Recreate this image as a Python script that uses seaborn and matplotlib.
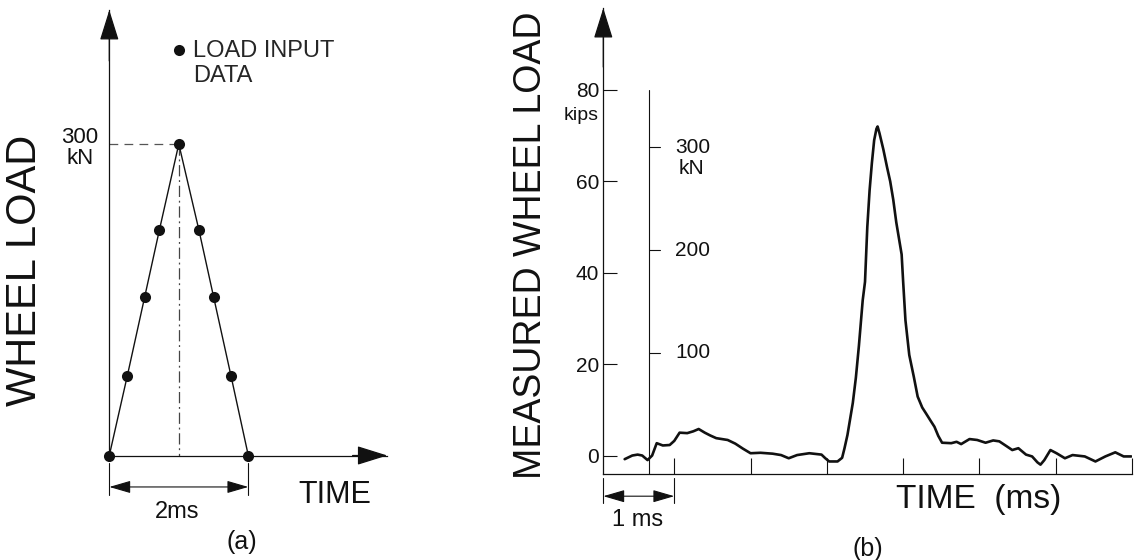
import matplotlib
matplotlib.use("Agg")
import matplotlib.pyplot as plt
import numpy as np
import pandas as pd
import seaborn as sns

# ---------------- data ----------------
# (a) idealised load input (time in ms, load in kN)
load_time_ms = [0.0, 0.26, 0.51, 0.72, 1.0, 1.29, 1.50, 1.75, 2.0]
load_kN = [0, 77, 153, 217, 300, 217, 153, 77, 0]

# (b) measured wheel load (time in ms, load in kips)
meas_time_ms = [
    0.35, 0.45, 0.52, 0.58, 0.65, 0.71, 0.77, 0.85, 0.94, 1.00,
    1.07, 1.17, 1.25, 1.32, 1.40, 1.47, 1.55, 1.70, 1.80, 1.90,
    2.00, 2.13, 2.29, 2.40, 2.50, 2.61, 2.77, 2.93, 2.98, 3.03,
    3.14, 3.20, 3.23, 3.27, 3.30, 3.34, 3.38, 3.42, 3.47, 3.50,
    3.53, 3.56, 3.59, 3.62, 3.65, 3.665, 3.69, 3.74, 3.79, 3.83,
    3.87, 3.91, 3.95, 3.98, 4.00, 4.03, 4.08, 4.14, 4.19, 4.25,
    4.30, 4.36, 4.41, 4.46, 4.51, 4.63, 4.70, 4.76, 4.87, 4.97,
    5.08, 5.18, 5.26, 5.35, 5.43, 5.51, 5.61, 5.69, 5.76, 5.80,
    5.85, 5.93, 6.01, 6.12, 6.22, 6.38, 6.52, 6.65, 6.78, 6.89,
    6.99,
]
meas_kips = [
    -0.8, 0.0, 0.2, 0.0, -1.0, 0.0, 2.7, 2.2, 2.3, 3.2,
    5.0, 4.9, 5.3, 5.8, 5.0, 4.4, 3.8, 3.4, 2.6, 1.5,
    0.5, 0.6, 0.4, 0.1, -0.6, 0.1, 0.5, 0.2, -0.6, -1.3,
    -1.3, -0.5, 1.5, 4.5, 7.5, 11.5, 17.0, 24.0, 34.0, 38.0,
    50.0, 58.0, 64.0, 69.0, 71.5, 72.0, 70.5, 67.0, 63.0, 60.0,
    56.0, 51.0, 47.0, 44.0, 38.0, 29.6, 22.0, 17.2, 12.9, 10.5,
    9.2, 7.6, 6.3, 4.3, 2.8, 2.7, 3.0, 2.5, 3.6, 3.4,
    2.8, 3.3, 3.1, 2.1, 1.2, 1.6, 0.2, -0.2, -1.5, -2.0,
    -1.0, 1.2, 0.5, -0.6, 0.1, -0.2, -1.3, -0.2, 0.7, -0.2,
    -0.2,
]

kips_ticks = [0, 20, 40, 60, 80]
kN_ticks = [100, 200, 300]
time_ticks_ms = [1, 2, 3, 4, 5, 6, 7]
KN_PER_KIP = 4.448

# ---------------- style ----------------
sns.set_theme(style="white")
plt.rcParams["font.family"] = ["Liberation Sans", "DejaVu Sans"]
INK = "#111111"

W, H = 1137, 560
fig = plt.figure(figsize=(W / 100, H / 100), dpi=100)

# ======================= panel (a) =======================
ax_a = fig.add_axes([109.3 / W, (H - 455.5) / H, 4.0 * 69.5 / W, 429 * 1.0383 / H])
ax_a.set_xlim(0, 4.0)
ax_a.set_ylim(0, 429)
for s in ["top", "right"]:
    ax_a.spines[s].set_visible(False)
for s in ["left", "bottom"]:
    ax_a.spines[s].set_color(INK)
    ax_a.spines[s].set_linewidth(0.9)
ax_a.set_xticks([])
ax_a.set_yticks([])
ax_a.patch.set_alpha(0)

df_a = pd.DataFrame({"t": load_time_ms, "kN": load_kN})
sns.lineplot(data=df_a, x="t", y="kN", ax=ax_a, color=INK, lw=1.0,
             estimator=None, sort=False, legend=False)
sns.scatterplot(data=df_a, x="t", y="kN", ax=ax_a, color=INK, s=64,
                edgecolor=INK, linewidth=0, zorder=5, clip_on=False,
                label="LOAD INPUT\nDATA")
ax_a.set_xlabel("")
ax_a.set_ylabel("")

peak_i = int(np.argmax(load_kN))
t_pk, y_pk = load_time_ms[peak_i], load_kN[peak_i]
ax_a.plot([0, t_pk], [y_pk, y_pk], color="#555555", lw=0.9, ls=(0, (7, 5)))
ax_a.plot([t_pk, t_pk], [y_pk, 0], color="#444444", lw=0.9, ls=(0, (9, 3, 1.5, 3)))

# axis arrow heads
arrow_kw = dict(arrowstyle="-|>,head_length=1.6,head_width=0.5", color=INK,
                lw=0.9, shrinkA=0, shrinkB=0)
ax_a.annotate("", xy=(0, 429), xytext=(0, 380), arrowprops=arrow_kw,
              annotation_clip=False)
ax_a.annotate("", xy=(4.0, 0), xytext=(3.5, 0), arrowprops=arrow_kw,
              annotation_clip=False)

leg = ax_a.legend(loc="upper left", bbox_to_anchor=(161 / W, 1 - 28 / H),
                  bbox_transform=fig.transFigure, frameon=False, fontsize=17,
                  handlelength=0.5, handletextpad=0.35, borderpad=0,
                  labelspacing=0.1, markerscale=1.0)
# put the marker level with the first text line
for col in leg._legend_handle_box.get_children():
    for item in col.get_children():
        item.align = "top"

ax_a.text(-0.42, 296, "300\nkN", ha="center", va="center", fontsize=16,
          linespacing=1.0, color=INK, clip_on=False)
ax_a.text(-1.21, 178, "WHEEL LOAD", rotation=90, ha="center", va="center",
          fontsize=30, color=INK, clip_on=False)
ax_a.text(3.25, -38, "TIME", ha="center", va="center", fontsize=22,
          color=INK, clip_on=False)

# 2 ms dimension
for tx in [load_time_ms[0], load_time_ms[-1]]:
    ax_a.plot([tx, tx], [-7, -38], color=INK, lw=0.8, clip_on=False)
ax_a.annotate("", xy=(load_time_ms[-1], -30.3), xytext=(load_time_ms[0], -30.3),
              arrowprops=dict(arrowstyle="<|-|>,head_length=1.1,head_width=0.32",
                              color=INK, lw=0.8, shrinkA=0, shrinkB=0),
              annotation_clip=False)
ax_a.text(0.98, -54, "2ms", ha="center", va="center", fontsize=17,
          color=INK, clip_on=False)
ax_a.text(1.91, -83.5, "(a)", ha="center", va="center", fontsize=18,
          color=INK, clip_on=False)

# ======================= panel (b) =======================
T0, T1 = 0.07, 7.0
Y0, Y1 = -4.0, 97.9
ax_b = fig.add_axes([603.3 / W, (H - 473.8) / H, (T1 - T0) * 76.3 / W,
                     (Y1 - Y0) * 4.57 / H])
ax_b.set_xlim(T0, T1)
ax_b.set_ylim(Y0, Y1)
ax_b.patch.set_alpha(0)
for s in ["top", "right"]:
    ax_b.spines[s].set_visible(False)
for s in ["left", "bottom"]:
    ax_b.spines[s].set_color(INK)
    ax_b.spines[s].set_linewidth(0.9)

df_b = pd.DataFrame({"t": meas_time_ms, "kips": meas_kips})
sns.lineplot(data=df_b, x="t", y="kips", ax=ax_b, color=INK, lw=1.9,
             estimator=None, sort=False, legend=False)
ax_b.set_xlabel("")
ax_b.set_ylabel("")

ax_b.set_xticks(time_ticks_ms)
ax_b.set_xticklabels([])
ax_b.tick_params(axis="x", direction="in", length=11.5, width=0.8,
                 color=INK, bottom=True)
ax_b.set_yticks(kips_ticks)
ax_b.set_yticklabels([str(v) for v in kips_ticks], fontsize=15, color=INK)
ax_b.tick_params(axis="y", direction="in", length=10, width=0.8, pad=3,
                 color=INK, left=True)

ax_b.annotate("", xy=(T0, Y1), xytext=(T0, 85), arrowprops=arrow_kw,
              annotation_clip=False)
ax_b.text(0.013, 74.5, "kips", ha="right", va="center", fontsize=14,
          color=INK, clip_on=False)

# kN scale
T_KN = 0.668
ax_b.plot([T_KN, T_KN], [Y0, kips_ticks[-1]], color=INK, lw=0.8)
for v in kN_ticks:
    k = v / KN_PER_KIP
    ax_b.plot([T_KN, T_KN + 0.145], [k, k], color=INK, lw=0.8)
    ax_b.text(1.01, k, str(v), ha="left", va="center", fontsize=15, color=INK)
ax_b.text(1.23, kN_ticks[-1] / KN_PER_KIP - 4.7, "kN", ha="center",
          va="center", fontsize=15, color=INK)

ax_b.text(-0.88, 46, "MEASURED WHEEL LOAD", rotation=90, ha="center",
          va="center", fontsize=27, color=INK, clip_on=False)
ax_b.text(4.99, -9.7, "TIME  (ms)", ha="center", va="center", fontsize=24,
          color=INK, clip_on=False)

# 1 ms dimension
for tx in [T0, time_ticks_ms[0]]:
    ax_b.plot([tx, tx], [-4.9, -10.4], color=INK, lw=0.8, clip_on=False)
ax_b.annotate("", xy=(time_ticks_ms[0], -8.9), xytext=(T0, -8.9),
              arrowprops=dict(arrowstyle="<|-|>,head_length=1.1,head_width=0.32",
                              color=INK, lw=0.8, shrinkA=0, shrinkB=0),
              annotation_clip=False)
ax_b.text(0.52, -14.1, "1 ms", ha="center", va="center", fontsize=17,
          color=INK, clip_on=False)
ax_b.text(3.54, -20.5, "(b)", ha="center", va="center", fontsize=18,
          color=INK, clip_on=False)

fig.savefig("out.png", dpi=100, facecolor="white")
